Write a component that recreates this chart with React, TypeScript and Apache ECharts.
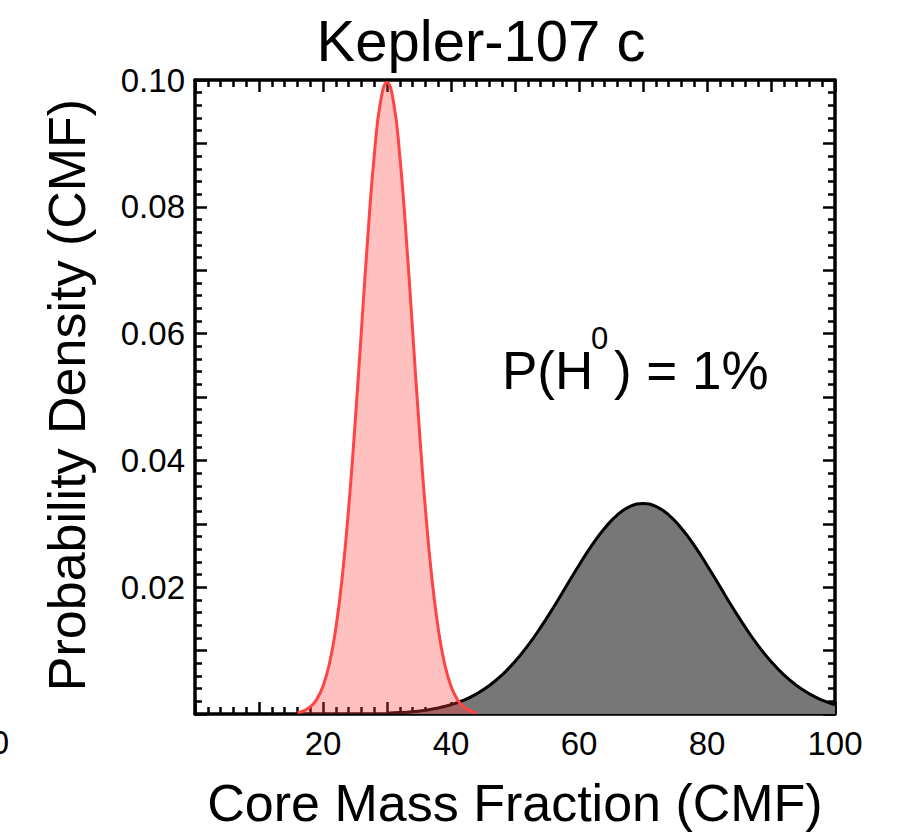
import React, { useEffect, useRef } from "react";
import * as echarts from "echarts";

// Red distribution (Kepler-107 c CMF posterior)
const redX = [16, 17, 18, 19, 20, 21, 22, 23, 24, 25, 26, 27, 28, 29, 30, 31, 32, 33, 34, 35, 36, 37, 38, 39, 40, 41, 42, 43, 44];
const redY = [0.00022, 0.00051, 0.00111, 0.00227, 0.00438, 0.00793, 0.01349, 0.02156, 0.03237, 0.04565, 0.06047, 0.07526, 0.08799, 0.09663, 0.0996, 0.09663, 0.08799, 0.07526, 0.06047, 0.04565, 0.03237, 0.02156, 0.01349, 0.00793, 0.00438, 0.00227, 0.00111, 0.00051, 0.00022];

// Black/grey distribution
const greyX = [30, 32, 34, 36, 38, 40, 42, 44, 46, 48, 50, 52, 54, 56, 58, 60, 62, 64, 66, 68, 70, 72, 74, 76, 78, 80, 82, 84, 86, 88, 90, 92, 94, 96, 98, 100];
const greyY = [0.00013, 0.00022, 0.00037, 0.0006, 0.00095, 0.00146, 0.00218, 0.00318, 0.00449, 0.00618, 0.00828, 0.01078, 0.01365, 0.01681, 0.02014, 0.02346, 0.02659, 0.0293, 0.03141, 0.03274, 0.0332, 0.03274, 0.03141, 0.0293, 0.02659, 0.02346, 0.02014, 0.01681, 0.01365, 0.01078, 0.00828, 0.00618, 0.00449, 0.00318, 0.00218, 0.00146];

const xTickLabels = [20, 40, 60, 80, 100];
const yTickLabels = [0.02, 0.04, 0.06, 0.08, 0.1];

const titleText = "Kepler-107 c";
const xTitle = "Core Mass Fraction (CMF)";
const yTitle = "Probability Density (CMF)";

const FONT = "'Liberation Sans', Arial, Helvetica, sans-serif";

export default function App() {
  const ref = useRef<HTMLDivElement>(null);
  useEffect(() => {
    if (!ref.current) return;
    const chart = echarts.init(ref.current, null, { renderer: "svg" });

    const tickStyle = { color: "#000", width: 2.5 };
    const mkX = (pos: "bottom" | "top", labels: boolean) => ({
      type: "value",
      position: pos,
      min: 0,
      max: 100,
      interval: 10,
      axisLine: { show: true, onZero: false, lineStyle: { color: "#000", width: 3.5 } },
      axisTick: { show: true, inside: true, length: 12, lineStyle: tickStyle },
      minorTick: { show: true, splitNumber: 5, length: 7, lineStyle: tickStyle },
      splitLine: { show: false },
      minorSplitLine: { show: false },
      axisLabel: {
        show: labels,
        margin: 13,
        fontSize: 33,
        color: "#000",
        fontFamily: FONT,
        formatter: (v: number) => (xTickLabels.indexOf(Math.round(v)) >= 0 ? String(Math.round(v)) : ""),
      },
    });
    const mkY = (pos: "left" | "right", labels: boolean) => ({
      type: "value",
      position: pos,
      min: 0,
      max: 0.1,
      interval: 0.01,
      axisLine: { show: true, onZero: false, lineStyle: { color: "#000", width: 3.5 } },
      axisTick: { show: true, inside: true, length: 12, lineStyle: tickStyle },
      minorTick: { show: true, splitNumber: 5, length: 7, lineStyle: tickStyle },
      splitLine: { show: false },
      minorSplitLine: { show: false },
      axisLabel: {
        show: labels,
        margin: 10,
        fontSize: 33,
        color: "#000",
        fontFamily: FONT,
        formatter: (v: number) => {
          const r = Math.round(v * 100) / 100;
          return yTickLabels.some((t) => Math.abs(t - r) < 1e-9) ? r.toFixed(2) : "";
        },
      },
    });

    chart.setOption({
      animation: false,
      backgroundColor: "#fff",
      grid: { left: 195, right: 62, top: 80, bottom: 118, containLabel: false },
      xAxis: [mkX("bottom", true), mkX("top", false)],
      yAxis: [mkY("left", true), mkY("right", false)],
      series: [
        {
          type: "line",
          xAxisIndex: 0,
          yAxisIndex: 0,
          data: greyX.map((x, i) => [x, greyY[i]]),
          smooth: true,
          showSymbol: false,
          lineStyle: { color: "#000", width: 3 },
          areaStyle: { color: "#777777", opacity: 1 },
          z: 2,
        },
        {
          type: "line",
          xAxisIndex: 0,
          yAxisIndex: 0,
          data: redX.map((x, i) => [x, redY[i]]),
          smooth: true,
          showSymbol: false,
          lineStyle: { color: "#ff4444", width: 3 },
          areaStyle: { color: "#ff4040", opacity: 0.33 },
          z: 3,
        },
      ],
      graphic: [
        {
          type: "text",
          x: 481,
          y: 40,
          style: { text: titleText, fontSize: 58, fontFamily: FONT, fill: "#000", align: "center", verticalAlign: "middle" },
        },
        {
          type: "text",
          x: 515,
          y: 803,
          style: { text: xTitle, fontSize: 52, fontFamily: FONT, fill: "#000", align: "center", verticalAlign: "middle" },
        },
        {
          type: "text",
          x: 67,
          y: 395,
          rotation: Math.PI / 2,
          style: { text: yTitle, fontSize: 52, fontFamily: FONT, fill: "#000", align: "center", verticalAlign: "middle" },
        },
        {
          type: "text",
          x: 502,
          y: 370,
          style: { text: "P(H", fontSize: 53, fontFamily: FONT, fill: "#000", align: "left", verticalAlign: "middle" },
        },
        {
          type: "text",
          x: 591,
          y: 338,
          style: { text: "0", fontSize: 31, fontFamily: FONT, fill: "#000", align: "left", verticalAlign: "middle" },
        },
        {
          type: "text",
          x: 614,
          y: 370,
          style: { text: ") = 1%", fontSize: 53, fontFamily: FONT, fill: "#000", align: "left", verticalAlign: "middle" },
        },
        {
          type: "text",
          x: 0,
          y: 742,
          style: { text: "0", fontSize: 33, fontFamily: FONT, fill: "#000", align: "center", verticalAlign: "middle" },
        },
      ],
    });
    return () => chart.dispose();
  }, []);
  return <div ref={ref} style={{ position: "fixed", left: 0, top: 0, width: 897, height: 832 }} />;
}
